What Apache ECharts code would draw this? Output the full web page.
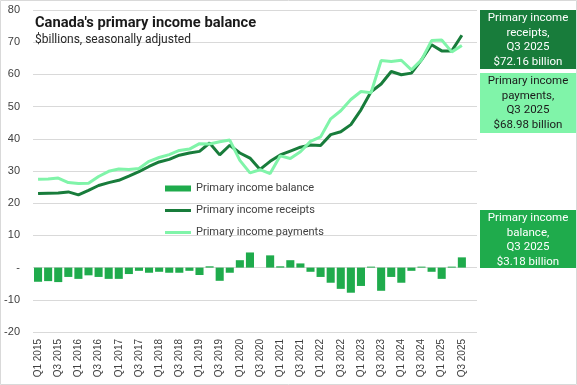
<!DOCTYPE html>
<html>
<head>
<meta charset="utf-8">
<script src="https://cdn.jsdelivr.net/npm/echarts@6/dist/echarts.min.js"></script>
<style>html,body{margin:0;padding:0;background:#fff}#c{width:577px;height:385px}</style>
</head>
<body>
<div id="c"></div>
<script>
const categories = ['Q1 2015','Q2 2015','Q3 2015','Q4 2015','Q1 2016','Q2 2016','Q3 2016','Q4 2016',
'Q1 2017','Q2 2017','Q3 2017','Q4 2017','Q1 2018','Q2 2018','Q3 2018','Q4 2018',
'Q1 2019','Q2 2019','Q3 2019','Q4 2019','Q1 2020','Q2 2020','Q3 2020','Q4 2020',
'Q1 2021','Q2 2021','Q3 2021','Q4 2021','Q1 2022','Q2 2022','Q3 2022','Q4 2022',
'Q1 2023','Q2 2023','Q3 2023','Q4 2023','Q1 2024','Q2 2024','Q3 2024','Q4 2024',
'Q1 2025','Q2 2025','Q3 2025',''];
const balance = [-4.4,-4.2,-4.5,-2.9,-3.5,-2.4,-2.9,-3.5,-3.5,-2.0,-1.0,-1.6,-1.3,-1.6,-1.6,-1.0,
-2.3,0.4,-4.1,-1.6,2.3,4.7,0.0,3.8,0.4,2.3,1.3,-1.3,-2.9,-4.7,-6.6,-7.8,-5.7,0.3,-7.2,-2.9,
-4.7,-1.0,0.3,-1.3,-3.5,0.3,3.18,null];
const receipts = [23.0,23.1,23.2,23.5,22.6,24.0,25.5,26.4,27.1,28.4,29.8,31.4,32.8,33.6,34.9,35.6,
36.1,38.7,35.0,38.0,35.6,34.0,30.5,33.0,35.0,36.2,37.4,38.1,37.9,41.3,42.2,44.4,49.0,54.6,57.0,
60.9,59.9,60.4,64.5,69.2,67.3,67.3,72.16,null];
const payments = [27.4,27.5,27.8,26.4,26.1,26.2,28.3,29.9,30.6,30.5,30.8,33.0,34.2,35.1,36.4,36.8,
38.5,38.4,39.1,39.6,33.3,29.4,30.4,29.2,34.7,33.9,36.0,39.2,40.6,46.2,48.7,52.2,54.7,54.3,64.3,
64.0,64.4,61.4,64.5,70.5,70.7,67.0,68.98,null];
const yTicks = {min: -20, max: 80, interval: 10};

const C_DARK = '#187c3b', C_LIGHT = '#80f4a9', C_BAR = '#1fab4c';
const chart = echarts.init(document.getElementById('c'), null, {renderer: 'canvas'});
const boxText = (x, y, lines, fill, color, h) => [
  {type: 'rect', shape: {x: x, y: y, width: 96, height: h}, style: {fill: fill}, silent: true},
  {type: 'text', x: x + 48, y: y + 1, style: {text: lines.join('\n'), fill: color, font: '11.5px Roboto, sans-serif', align: 'center', verticalAlign: 'top', lineHeight: 14.6}, silent: true}
];
const LINE_ICON = 'path://M0,0H26V3H0Z';
chart.setOption({
  animation: false,
  grid: {left: 33, right: 100, top: 10, bottom: 53, containLabel: false},
  title: [
    {text: "Canada's primary income balance", left: 30, top: 11, textStyle: {fontFamily: 'Roboto', fontWeight: 'bold', fontSize: 14.7, color: '#1a1a1a'}},
    {text: '$billions, seasonally adjusted', left: 30, top: 29, textStyle: {fontFamily: 'Roboto', fontWeight: 'normal', fontSize: 12, color: '#262626'}}
  ],
  legend: {
    orient: 'vertical', left: 160, top: 178, itemWidth: 26, itemHeight: 6, itemGap: 11,
    textStyle: {fontFamily: 'Roboto', fontSize: 11, color: '#404040'},
    data: [{name: 'Primary income balance', icon: 'rect'},
           {name: 'Primary income receipts', icon: LINE_ICON},
           {name: 'Primary income payments', icon: LINE_ICON}]
  },
  xAxis: {
    type: 'category', data: categories,
    axisLine: {show: false}, axisTick: {show: false},
    axisLabel: {interval: 1, rotate: 90, fontFamily: 'Liberation Sans', fontSize: 10, color: '#404040', margin: 7}
  },
  yAxis: {
    type: 'value', min: yTicks.min, max: yTicks.max, interval: yTicks.interval,
    axisLine: {show: false}, axisTick: {show: false},
    splitLine: {lineStyle: {color: '#d9d9d9', width: 1}},
    axisLabel: {fontFamily: 'Liberation Sans', fontSize: 11, color: '#404040', margin: 13,
      formatter: v => v === 0 ? '-' : String(v)}
  },
  series: [
    {name: 'Primary income balance', type: 'bar', data: balance, barCategoryGap: '20%', itemStyle: {color: C_BAR}},
    {name: 'Primary income receipts', type: 'line', data: receipts, symbol: 'none', lineStyle: {color: C_DARK, width: 3}, itemStyle: {color: C_DARK}},
    {name: 'Primary income payments', type: 'line', data: payments, symbol: 'none', lineStyle: {color: C_LIGHT, width: 3}, itemStyle: {color: C_LIGHT}}
  ],
  graphic: [
    {type: 'rect', shape: {x: 0.5, y: 0.5, width: 576, height: 384}, style: {fill: 'none', stroke: '#d9d9d9', lineWidth: 1}, silent: true},
    ...boxText(480, 10, ['Primary income', 'receipts,', 'Q3 2025', '$72.16 billion'], C_DARK, '#ffffff', 59),
    ...boxText(480, 73, ['Primary income', 'payments,', 'Q3 2025', '$68.98 billion'], C_LIGHT, '#1a1a1a', 60),
    ...boxText(480, 210, ['Primary income', 'balance,', 'Q3 2025', '$3.18 billion'], C_BAR, '#ffffff', 58)
  ]
});
</script>
</body>
</html>
